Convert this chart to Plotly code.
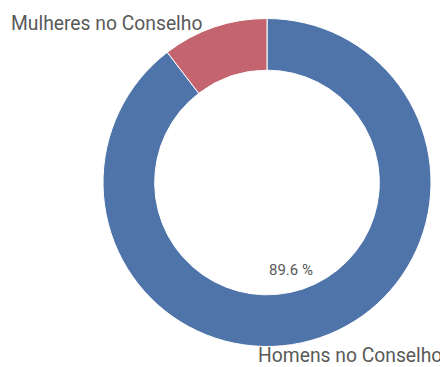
import plotly.graph_objects as go

categories = ["Homens no Conselho", "Mulheres no Conselho"]
values = [89.6, 10.4]
colors = ["#4e74a9", "#c4646f"]

# page body has an 8px margin; work in window coordinates and shift
OFF = 8
W, H = 448 - OFF, 367 - OFF
cx, cy, r = 267 - OFF, 182.5 - OFF, 164


def px(x):
    return (x - OFF) / W


def py(y):
    return 1 - (y - OFF) / H


fig = go.Figure(go.Pie(
    labels=categories,
    values=values,
    hole=0.685,
    sort=False,
    direction="clockwise",
    rotation=0,
    textinfo="none",
    hoverinfo="label+percent",
    marker=dict(colors=colors, line=dict(color="white", width=1)),
    domain=dict(x=[(cx - r) / W, (cx + r) / W],
                y=[(H - cy - r) / H, (H - cy + r) / H]),
    showlegend=False,
))

font = dict(family="Roboto, sans-serif", size=19.3, color="#595959")
total = sum(values)
fig.add_annotation(text=categories[1], x=px(9), y=py(23.5), xref="paper", yref="paper",
                   xanchor="left", yanchor="middle", showarrow=False, font=font)
fig.add_annotation(text=categories[0], x=px(444), y=py(355.5), xref="paper", yref="paper",
                   xanchor="right", yanchor="middle", showarrow=False, font=font)
fig.add_annotation(text=f"{values[0] / total * 100:.1f} %", x=px(291), y=py(270),
                   xref="paper", yref="paper", xanchor="center", yanchor="middle",
                   showarrow=False, font=dict(family="Roboto, sans-serif", size=15, color="#595959"))

fig.update_layout(width=W, height=H, margin=dict(l=0, r=0, t=0, b=0),
                  paper_bgcolor="white", plot_bgcolor="white")
fig.write_html("out.html")
